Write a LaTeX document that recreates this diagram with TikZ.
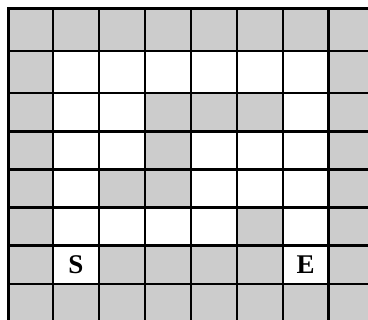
\documentclass[tikz,border=0pt]{standalone}
\usepackage{fontspec}
\setmainfont{Liberation Serif}
\definecolor{wallgray}{HTML}{CCCCCC}

\begin{document}
\begin{tikzpicture}[
  x=1pt,y=-1pt,
  wall/.style={fill=wallgray},
  open/.style={fill=white},
  gridline/.style={line width=2.2pt,draw=black,line cap=rect},
  tag/.style={font=\fontsize{27}{27}\selectfont\bfseries,inner sep=0pt}
]
\path[use as bounding box,clip] (0,0) rectangle (368,320);
% walls everywhere, then the open cells
\fill[wall] (8.5,8.5) rectangle (374,322);
\foreach \l/\r/\t/\b in {
  53/99/51/93, 99/145/51/93, 145/191/51/93, 191/237/51/93, 237/283/51/93, 283/328.5/51/93,
  53/99/93/131.5, 99/145/93/131.5, 283/328.5/93/131.5,
  53/99/131.5/169.5, 99/145/131.5/169.5, 191/237/131.5/169.5, 237/283/131.5/169.5, 283/328.5/131.5/169.5,
  53/99/169.5/207.5, 191/237/169.5/207.5, 237/283/169.5/207.5, 283/328.5/169.5/207.5,
  53/99/207.5/245.5, 99/145/207.5/245.5, 145/191/207.5/245.5, 191/237/207.5/245.5, 283/328.5/207.5/245.5,
  53/99/245.5/284, 283/328.5/245.5/284}
  \fill[open] (\l,\t) rectangle (\r,\b);
% grid lines
\foreach \x in {8.5,53,99,145,191,237,283,328.5,374}
  \draw[gridline] (\x,8.5) -- (\x,322);
\foreach \y in {8.5,51,93,131.5,169.5,207.5,245.5,284,322}
  \draw[gridline] (8.5,\y) -- (374,\y);
% start and end
\node[tag] (start) at (76,264.5) {S};
\node[tag] (end) at (305.75,264.5) {E};
\end{tikzpicture}
\end{document}
